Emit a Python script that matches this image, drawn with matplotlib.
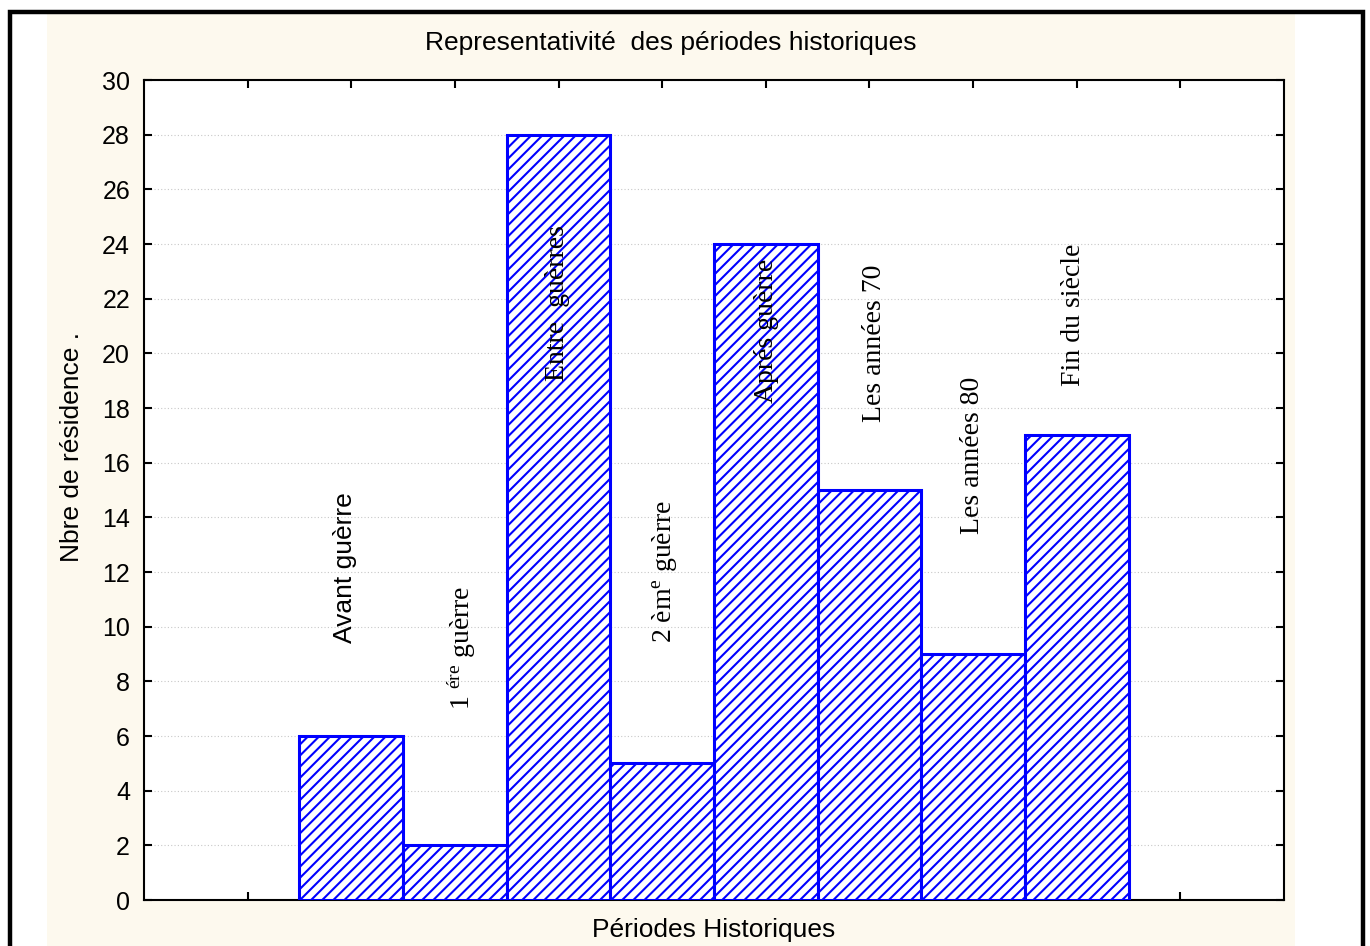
import matplotlib
matplotlib.use("Agg")
import matplotlib.pyplot as plt
from matplotlib.patches import Rectangle

# Data
periods = ["Avant guèrre", "1 ére guèrre", "Entre  guèrres", "2 èm e guèrre",
           "Aprés guèrre", "Les années 70", "Les années 80", "Fin du siècle"]
counts = [6, 2, 28, 5, 24, 15, 9, 17]
yticks = list(range(0, 31, 2))

# Label text as drawn (superscripts via mathtext)
label_text = ["Avant guèrre", r"1 $^{\mathrm{ére}}$ guèrre", "Entre  guèrres",
              r"2 èm$^{\mathrm{e}}$ guèrre", "Aprés guèrre", "Les années 70",
              "Les années 80", "Fin du siècle"]
label_x = [1.94, 3.07, 3.99, 5.02, 6.01, 7.05, 7.99, 8.97]
label_y = [9.4, 6.95, 19.0, 9.4, 18.2, 17.5, 13.4, 18.8]
label_family = ["Liberation Sans"] + ["Liberation Serif"] * 7

plt.rcParams["font.family"] = ["Liberation Sans", "DejaVu Sans"]
plt.rcParams["mathtext.fontset"] = "custom"
plt.rcParams["mathtext.rm"] = "Liberation Serif"
plt.rcParams["mathtext.it"] = "Liberation Serif:italic"
plt.rcParams["hatch.color"] = "#0000FF"
plt.rcParams["hatch.linewidth"] = 1.5

W, H = 1370, 946
fig = plt.figure(figsize=(W / 100, H / 100), dpi=100)
fig.patch.set_facecolor("white")

# Cream panel and outer frame
fig.patches.append(Rectangle((47 / W, 0), (1295 - 47) / W, (H - 14) / H,
                             transform=fig.transFigure, facecolor="#FDF9EE",
                             edgecolor="none", zorder=-2))
fig.patches.append(Rectangle((10 / W, -0.1), (1363 - 10) / W, 0.1 + (H - 12) / H,
                             transform=fig.transFigure, facecolor="none",
                             edgecolor="black", linewidth=3.2, zorder=-1,
                             clip_on=False))

ax = fig.add_axes([144 / W, (H - 900) / H, (1284 - 144) / W, (900 - 80) / H])
ax.set_zorder(5)
ax.set_facecolor("white")

x = list(range(2, 2 + len(counts)))
ax.bar(x, counts, width=1.0, facecolor="white", edgecolor="#0000FF",
       linewidth=2.2, hatch="///", zorder=3)

for tx, ty, t, fam in zip(label_x, label_y, label_text, label_family):
    ax.text(tx, ty, t, rotation=90, ha="center", va="bottom",
            fontsize=20 if fam == "Liberation Serif" else 19,
            family=fam, color="black", zorder=5)

ax.set_xlim(0, 11)
ax.set_ylim(0, 30)
ax.set_yticks(yticks)
ax.set_xticks(range(1, 11))
ax.set_xticklabels([])
ax.tick_params(axis="both", direction="in", length=6, width=1.5,
               top=True, right=True, labelsize=18, pad=10)
ax.grid(axis="y", linestyle=(0, (1, 2)), color="#C8C8C8", linewidth=0.8, zorder=0)
for s in ax.spines.values():
    s.set_linewidth(1.5)

fig.text(671 / W, 1 - 43 / H, "Representativité  des périodes historiques",
         ha="center", va="center", fontsize=19)
fig.text(714 / W, 1 - 930 / H, "Périodes Historiques",
         ha="center", va="center", fontsize=19)
fig.text(72 / W, 1 - 447 / H, "Nbre de résidence .", rotation=90,
         ha="center", va="center", fontsize=19)

fig.savefig("out.png", dpi=100)
